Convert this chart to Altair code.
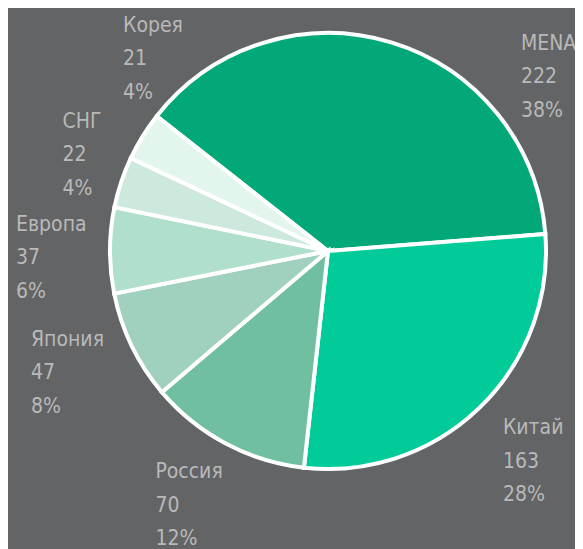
import math
import altair as alt
import pandas as pd

# data
regions = ["MENA", "Китай", "Россия", "Япония", "Европа", "СНГ", "Корея"]
values = [222, 163, 70, 47, 37, 22, 21]
colors = ["#02a878", "#02cb9a", "#70bfa0", "#9fd1be", "#b0dfcb", "#cde9de", "#e3f6ee"]

# label layout (polar placement of each label block, degrees / px)
label_theta = [43.8, 136.3, 217.2, 252.3, 273.7, 294.9, 316.9]
label_radius = [278.7, 253.2, 285.5, 311.8, 312.6, 292.6, 300.0]

total = sum(values)
labels = [f"{r}\n{v}\n{round(v / total * 100)}%" for r, v in zip(regions, values)]

df = pd.DataFrame({
    "region": regions,
    "value": values,
    "idx": list(range(len(regions))),
    "label": labels,
    "lt": label_theta,
    "lr": label_radius,
})

start = math.radians(-51.8)
cx, cy = 320, 243

base = alt.Chart(df)

pie = base.mark_arc(radius=218, stroke="white", strokeWidth=4).encode(
    x=alt.value(cx),
    y=alt.value(cy),
    theta=alt.Theta("value:Q", stack=True, scale=alt.Scale(range=[start, start + 2 * math.pi])),
    color=alt.Color("region:N", scale=alt.Scale(domain=regions, range=colors), legend=None),
    order=alt.Order("idx:Q"),
)

text = base.mark_text(
    align="left", baseline="alphabetic", lineBreak="\n", lineHeight=33.5,
    font="DejaVu Sans Condensed, Roboto, sans-serif", fontSize=21, color="#b9b9b9",
).encode(
    x=alt.value(cx),
    y=alt.value(cy),
    theta=alt.Theta("lt:Q", stack=False, scale=alt.Scale(domain=[0, 360], range=[0, 2 * math.pi])),
    radius=alt.Radius("lr:Q", scale=alt.Scale(type="linear", domain=[0, 400], range=[0, 400])),
    text="label:N",
)

chart = alt.layer(pie, text).resolve_scale(theta="independent", radius="independent").properties(
    width=567, height=541, background="#636466", padding=0,
    autosize=alt.AutoSizeParams(type="none"),
).configure_view(stroke=None)

chart.save("out.html", embed_options={"renderer": "svg", "actions": False})
